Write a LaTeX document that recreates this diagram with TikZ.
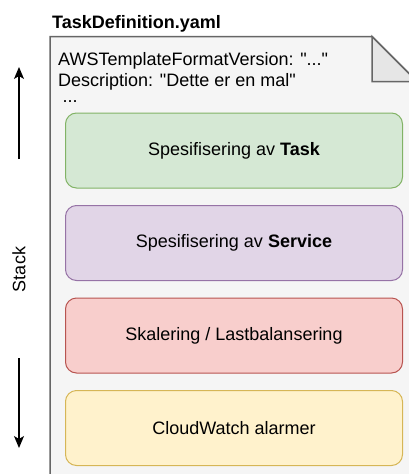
\documentclass[tikz,border=0pt]{standalone}
\usepackage{fontspec}
\setmainfont{Liberation Sans}[Ligatures=TeXOff]
\usetikzlibrary{arrows.meta}

\definecolor{docfill}{HTML}{F5F5F5}
\definecolor{docline}{HTML}{666666}
\definecolor{foldfill}{HTML}{E6E6E6}
\definecolor{greenfill}{HTML}{D5E8D4}
\definecolor{greenline}{HTML}{82B366}
\definecolor{purplefill}{HTML}{E1D5E7}
\definecolor{purpleline}{HTML}{9673A6}
\definecolor{redfill}{HTML}{F8CECC}
\definecolor{redline}{HTML}{B85450}
\definecolor{yellowfill}{HTML}{FFF2CC}
\definecolor{yellowline}{HTML}{D6B656}

\tikzset{
  basefont/.style={font=\fontsize{18}{21.6}\selectfont},
  section/.style={basefont, rounded corners=11pt, line width=1pt,
    minimum width=337pt, minimum height=75pt, inner sep=0pt, anchor=north west},
  hdrline/.style={basefont, anchor=base west, inner sep=0pt},
  stackarrow/.style={line width=1.2pt, -{Stealth[length=12pt,width=10pt,inset=3pt]}},
}

\begin{document}
\begin{tikzpicture}[x=1pt,y=-1pt]
  \useasboundingbox (0,0) rectangle (409,474);
  \clip (0,0) rectangle (409,474);

  % file name above the sheet
  \node[font=\fontsize{18}{21.6}\selectfont\bfseries, anchor=base west, inner sep=0pt]
    (title) at (52,28.5) {TaskDefinition.yaml};

  % the sheet with its folded corner
  \draw[fill=docfill, draw=docline, line width=1.5pt]
    (50,500) -- (50,36.5) -- (372,36.5) -- (417,81.5) -- (417,500);
  \draw[fill=foldfill, draw=docline, line width=1.5pt, line join=miter]
    (372,36.5) -- (372,81.5) -- (417,81.5) -- cycle;

  % template header
  \node[hdrline] (hdrA) at (58,65.5) {AWSTemplateFormatVersion: "..."};
  \node[hdrline] (hdrB) at (58,86.5) {Description: "Dette er en mal"};
  \node[hdrline] (hdrC) at (62.5,102.5) {...};

  % template sections
  \node[section, fill=greenfill, draw=greenline] (task) at (65,112.5)
    {Spesifisering av \textbf{Task}};
  \node[section, fill=purplefill, draw=purpleline] (service) at (65,205)
    {Spesifisering av \textbf{Service}};
  \node[section, fill=redfill, draw=redline] (scaling) at (65,297.5)
    {Skalering / Lastbalansering};
  \node[section, fill=yellowfill, draw=yellowline] (alarms) at (65,390)
    {CloudWatch alarmer};

  % stack direction
  \node[basefont, rotate=90, inner sep=0pt] (stack) at (19,269.5) {Stack};
  \coordinate (upTail) at (19,159);
  \coordinate (upTip) at (19,67);
  \coordinate (downTail) at (19,358);
  \coordinate (downTip) at (19,448);
  \draw[stackarrow] (upTail) -- (upTip);
  \draw[stackarrow] (downTail) -- (downTip);
\end{tikzpicture}
\end{document}
